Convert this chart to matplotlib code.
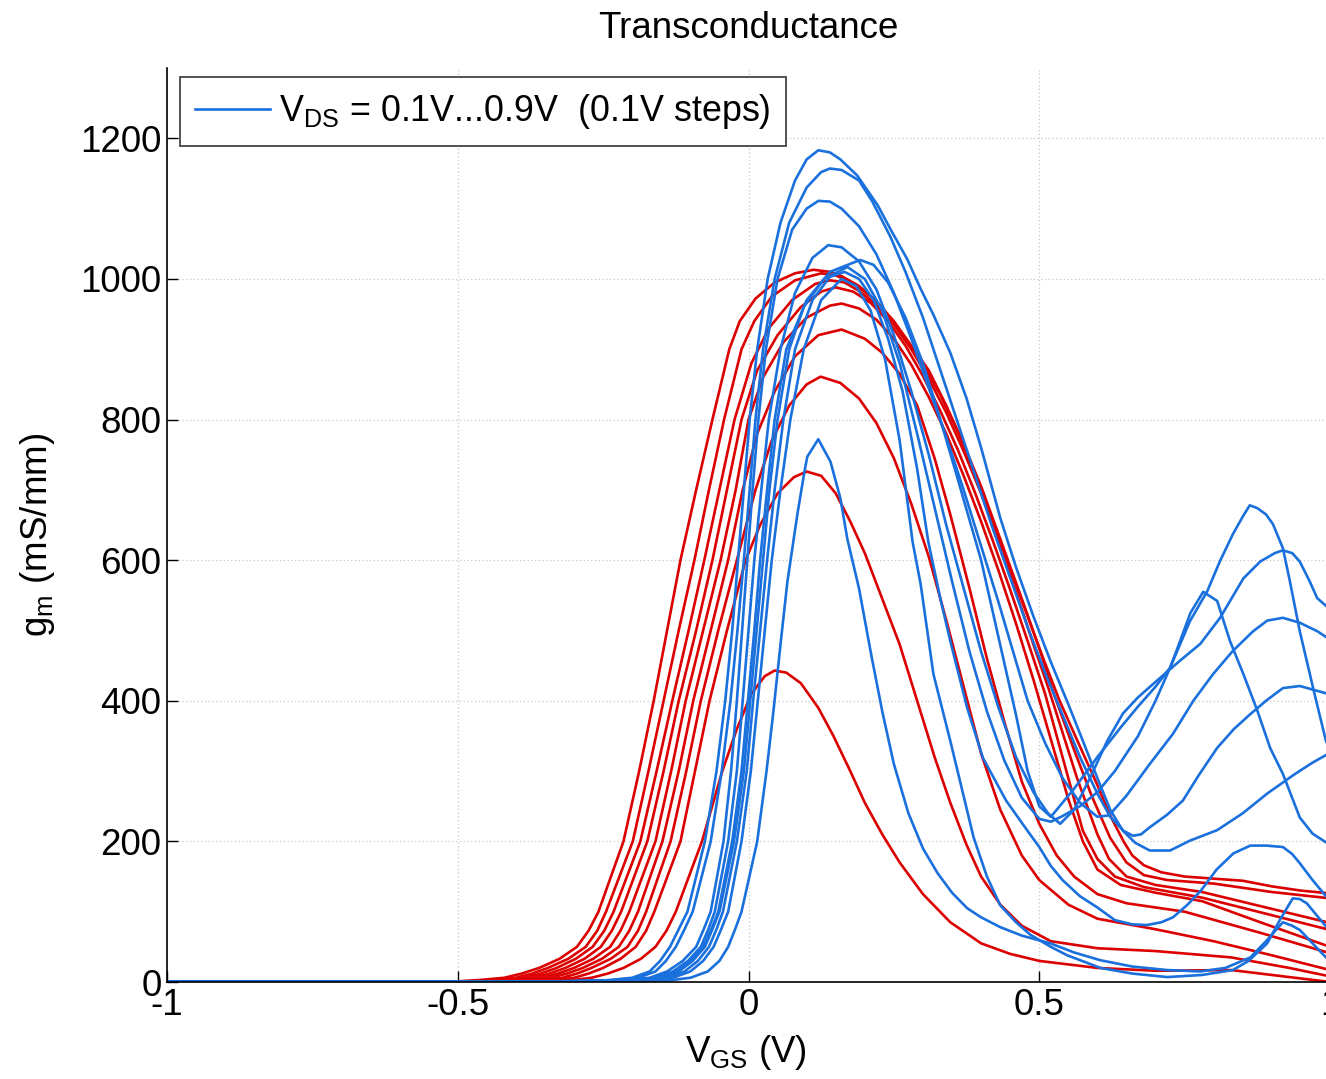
import matplotlib
matplotlib.use("Agg")
import matplotlib.pyplot as plt

plt.rcParams['font.family'] = ['Liberation Sans', 'DejaVu Sans']
plt.rcParams['mathtext.default'] = 'regular'

# red family: VGS (V) and gm (mS/mm)
r1_v = [-1, -0.46, -0.33, -0.3, -0.27, -0.242, -0.215, -0.185, -0.16, -0.141, -0.125, -0.08, -0.045, -0.02, 0.005, 0.028, 0.045, 0.065, 0.09, 0.12, 0.146, 0.175, 0.2, 0.23, 0.26, 0.3, 0.347, 0.4, 0.45, 0.5, 0.6, 0.7, 0.83, 0.92, 1.0]
r1_g = [0, 0, 1, 3, 6, 12, 20, 33, 50, 73, 100, 200, 300, 360, 410, 435, 443, 440, 425, 390, 350, 300, 255, 210, 170, 125, 85, 55, 40, 30, 20, 16, 17, 8, 0]
r2_v = [-1, -0.48, -0.36, -0.33, -0.30, -0.275, -0.25, -0.22, -0.194, -0.176, -0.162, -0.117, -0.092, -0.067, -0.037, -0.005, 0.02, 0.05, 0.078, 0.1, 0.125, 0.15, 0.175, 0.2, 0.23, 0.26, 0.29, 0.32, 0.347, 0.375, 0.4, 0.433, 0.47, 0.52, 0.6, 0.7, 0.83, 0.93, 1.0]
r2_g = [0, 0, 1, 3, 6, 12, 20, 33, 50, 73, 100, 200, 300, 400, 500, 600, 650, 695, 718, 726, 720, 695, 655, 610, 545, 480, 400, 320, 255, 195, 150, 110, 80, 58, 48, 44, 35, 20, 8]
r3_v = [-1, -0.5, -0.38, -0.35, -0.32, -0.295, -0.27, -0.237, -0.208, -0.19, -0.176, -0.134, -0.107, -0.082, -0.052, -0.02, 0.012, 0.04, 0.07, 0.1, 0.124, 0.158, 0.19, 0.22, 0.25, 0.28, 0.31, 0.34, 0.37, 0.4, 0.433, 0.47, 0.5, 0.55, 0.6, 0.7, 0.8, 0.9, 1.0]
r3_g = [0, 0, 1, 3, 6, 12, 20, 33, 50, 73, 100, 200, 300, 400, 500, 600, 700, 770, 820, 850, 861, 852, 830, 795, 745, 680, 605, 515, 420, 325, 245, 180, 145, 110, 90, 75, 58, 38, 17]
r4_v = [-1, -0.52, -0.40, -0.37, -0.34, -0.312, -0.285, -0.252, -0.223, -0.205, -0.19, -0.148, -0.12, -0.095, -0.065, -0.035, -0.01, 0.015, 0.045, 0.08, 0.12, 0.16, 0.2, 0.23, 0.26, 0.29, 0.32, 0.347, 0.38, 0.41, 0.44, 0.47, 0.5, 0.53, 0.56, 0.6, 0.65, 0.75, 0.88, 1.0]
r4_g = [0, 0, 1, 3, 6, 12, 20, 33, 50, 73, 100, 200, 300, 400, 500, 600, 700, 780, 840, 890, 920, 928, 915, 895, 865, 820, 745, 665, 560, 460, 370, 285, 225, 180, 150, 125, 112, 100, 70, 41]
r5_v = [-1, -0.54, -0.42, -0.387, -0.355, -0.327, -0.30, -0.267, -0.238, -0.22, -0.205, -0.16, -0.133, -0.108, -0.078, -0.048, -0.022, 0.0, 0.025, 0.06, 0.1, 0.14, 0.16, 0.19, 0.22, 0.25, 0.28, 0.31, 0.34, 0.37, 0.4, 0.43, 0.46, 0.49, 0.52, 0.55, 0.575, 0.6, 0.64, 0.7, 0.78, 0.88, 1.0]
r5_g = [0, 0, 1, 3, 6, 12, 20, 33, 50, 73, 100, 200, 300, 400, 500, 600, 700, 800, 860, 910, 945, 962, 965, 958, 942, 915, 878, 832, 780, 720, 655, 585, 510, 430, 345, 260, 200, 160, 138, 127, 115, 85, 50]
r6_v = [-1, -0.56, -0.44, -0.405, -0.37, -0.342, -0.315, -0.282, -0.254, -0.235, -0.219, -0.174, -0.146, -0.12, -0.09, -0.062, -0.037, -0.012, 0.015, 0.05, 0.09, 0.125, 0.15, 0.18, 0.21, 0.24, 0.27, 0.3, 0.33, 0.36, 0.39, 0.42, 0.45, 0.48, 0.51, 0.54, 0.575, 0.6, 0.63, 0.68, 0.78, 0.9, 1.0]
r6_g = [0, 0, 1, 3, 6, 12, 20, 33, 50, 73, 100, 200, 300, 400, 500, 600, 700, 800, 870, 920, 960, 982, 988, 982, 966, 940, 905, 862, 812, 757, 695, 628, 558, 485, 410, 320, 215, 175, 150, 135, 120, 95, 74]
r7_v = [-1, -0.58, -0.46, -0.422, -0.385, -0.357, -0.33, -0.297, -0.268, -0.248, -0.232, -0.186, -0.158, -0.131, -0.103, -0.076, -0.05, -0.024, 0.005, 0.035, 0.075, 0.115, 0.14, 0.165, 0.19, 0.22, 0.25, 0.28, 0.31, 0.34, 0.37, 0.4, 0.43, 0.46, 0.49, 0.515, 0.54, 0.565, 0.6, 0.62, 0.65, 0.7, 0.78, 0.88, 1.0]
r7_g = [0, 0, 1, 3, 6, 12, 20, 33, 50, 73, 100, 200, 300, 400, 500, 600, 700, 800, 880, 930, 970, 993, 998, 995, 983, 963, 935, 900, 858, 810, 755, 695, 625, 555, 480, 420, 355, 290, 210, 175, 150, 138, 128, 108, 84]
r8_v = [-1, -0.6, -0.48, -0.44, -0.40, -0.372, -0.345, -0.31, -0.28, -0.26, -0.245, -0.199, -0.172, -0.146, -0.12, -0.093, -0.068, -0.042, -0.012, 0.01, 0.04, 0.08, 0.125, 0.15, 0.18, 0.21, 0.24, 0.27, 0.3, 0.33, 0.36, 0.39, 0.42, 0.45, 0.48, 0.5, 0.525, 0.56, 0.59, 0.622, 0.65, 0.68, 0.72, 0.8, 0.9, 1.0]
r8_g = [0, 0, 1, 3, 6, 12, 20, 33, 50, 73, 100, 200, 300, 400, 500, 600, 700, 800, 900, 940, 975, 998, 1008, 1005, 994, 975, 948, 915, 878, 835, 783, 722, 655, 588, 520, 475, 410, 330, 265, 205, 170, 152, 145, 140, 128, 119]
r9_v = [-1, -0.62, -0.5, -0.46, -0.42, -0.39, -0.36, -0.325, -0.295, -0.275, -0.258, -0.215, -0.188, -0.163, -0.14, -0.117, -0.09, -0.062, -0.033, -0.015, 0.012, 0.045, 0.08, 0.112, 0.14, 0.16, 0.19, 0.22, 0.25, 0.28, 0.31, 0.34, 0.37, 0.40, 0.433, 0.47, 0.5, 0.535, 0.57, 0.6, 0.62, 0.645, 0.66, 0.68, 0.71, 0.75, 0.8, 0.85, 0.9, 0.95, 1.0]
r9_g = [0, 0, 1, 3, 6, 12, 20, 33, 50, 73, 100, 200, 300, 400, 500, 600, 700, 800, 900, 940, 972, 995, 1008, 1013, 1010, 1004, 990, 968, 940, 905, 870, 820, 765, 705, 630, 545, 475, 400, 335, 280, 240, 200, 180, 166, 156, 150, 147, 144, 136, 130, 126]

# blue family
b1_v = [-1, -0.35, -0.14, -0.1, -0.07, -0.05, -0.035, -0.023, -0.012, 0.015, 0.031, 0.043, 0.055, 0.067, 0.084, 0.095, 0.101, 0.12, 0.141, 0.158, 0.17, 0.19, 0.21, 0.23, 0.25, 0.275, 0.3, 0.325, 0.35, 0.376, 0.4, 0.433, 0.47, 0.519, 0.56, 0.605, 0.66, 0.72, 0.777, 0.82, 0.863, 0.89, 0.919, 0.935, 0.948, 0.97, 0.993, 1.0]
b1_g = [0, 0, 2, 6, 15, 30, 50, 75, 100, 200, 300, 386, 480, 570, 665, 720, 747, 772, 740, 688, 630, 560, 470, 385, 310, 240, 190, 155, 127, 105, 92, 78, 66, 55, 42, 31, 22, 17, 15, 20, 35, 58, 85, 80, 74, 55, 35, 30]
ba_v = [-1, -0.4, -0.25, -0.2, -0.17, -0.152, -0.135, -0.12, -0.105, -0.075, -0.055, -0.04, -0.028, -0.018, -0.008, 0.002, 0.015, 0.033, 0.055, 0.08, 0.1, 0.12, 0.14, 0.158, 0.187, 0.222, 0.244, 0.273, 0.296, 0.318, 0.347, 0.375, 0.4, 0.433, 0.46, 0.49, 0.52, 0.55, 0.575, 0.6, 0.622, 0.644, 0.665, 0.69, 0.725, 0.759, 0.806, 0.85, 0.892, 0.94, 0.97, 1.0]
ba_g = [0, 0, 2, 6, 15, 30, 50, 75, 100, 200, 300, 400, 500, 600, 700, 800, 900, 1000, 1080, 1140, 1170, 1183, 1180, 1170, 1147, 1105, 1071, 1028, 986, 949, 895, 830, 760, 660, 590, 520, 455, 395, 343, 290, 245, 215, 198, 187, 187, 201, 216, 240, 268, 296, 312, 326]
bb_v = [-1, -0.4, -0.24, -0.19, -0.16, -0.142, -0.125, -0.11, -0.096, -0.065, -0.046, -0.031, -0.019, -0.008, 0.002, 0.012, 0.025, 0.045, 0.07, 0.1, 0.125, 0.14, 0.16, 0.19, 0.213, 0.244, 0.27, 0.3, 0.33, 0.36, 0.39, 0.42, 0.45, 0.48, 0.51, 0.54, 0.57, 0.6, 0.622, 0.645, 0.661, 0.675, 0.69, 0.72, 0.747, 0.775, 0.806, 0.835, 0.863, 0.89, 0.919, 0.948, 0.97, 1.0]
bb_g = [0, 0, 2, 6, 15, 30, 50, 75, 100, 200, 300, 400, 500, 600, 700, 800, 900, 1000, 1080, 1130, 1152, 1157, 1155, 1140, 1110, 1060, 1010, 945, 870, 795, 720, 645, 575, 505, 440, 380, 320, 268, 235, 215, 208, 210, 220, 238, 258, 295, 333, 360, 381, 400, 418, 421, 416, 409]
bc_v = [-1, -0.4, -0.22, -0.17, -0.14, -0.113, -0.09, -0.077, -0.065, -0.043, -0.03, -0.02, -0.011, -0.002, 0.007, 0.017, 0.03, 0.05, 0.075, 0.1, 0.12, 0.14, 0.16, 0.19, 0.22, 0.25, 0.28, 0.31, 0.34, 0.37, 0.4, 0.43, 0.455, 0.48, 0.51, 0.54, 0.57, 0.6, 0.62, 0.65, 0.69, 0.73, 0.765, 0.799, 0.833, 0.868, 0.892, 0.919, 0.948, 0.978, 1.0]
bc_g = [0, 0, 2, 6, 15, 30, 50, 75, 100, 200, 300, 400, 500, 600, 700, 800, 900, 1000, 1070, 1100, 1111, 1110, 1100, 1075, 1035, 980, 915, 845, 775, 700, 620, 540, 470, 400, 340, 290, 255, 235, 237, 265, 310, 353, 400, 438, 471, 499, 514, 518, 511, 499, 487]
bd_v = [-1, -0.4, -0.21, -0.16, -0.13, -0.104, -0.082, -0.069, -0.058, -0.035, -0.02, -0.01, 0.0, 0.01, 0.022, 0.035, 0.055, 0.08, 0.11, 0.137, 0.16, 0.19, 0.22, 0.25, 0.28, 0.31, 0.34, 0.37, 0.4, 0.43, 0.46, 0.49, 0.515, 0.536, 0.56, 0.59, 0.617, 0.644, 0.67, 0.696, 0.742, 0.777, 0.811, 0.851, 0.88, 0.905, 0.919, 0.935, 0.948, 0.965, 0.978, 1.0]
bd_g = [0, 0, 2, 6, 15, 30, 50, 75, 100, 200, 300, 400, 500, 600, 700, 800, 900, 980, 1030, 1048, 1045, 1025, 985, 920, 840, 750, 650, 560, 470, 390, 320, 270, 240, 225, 245, 295, 343, 382, 405, 424, 457, 481, 518, 574, 598, 610, 614, 610, 598, 570, 546, 530]
be_v = [-1, -0.4, -0.2, -0.155, -0.125, -0.1, -0.078, -0.064, -0.052, -0.028, -0.012, -0.001, 0.01, 0.02, 0.032, 0.045, 0.065, 0.1, 0.14, 0.192, 0.215, 0.24, 0.27, 0.3, 0.33, 0.36, 0.4, 0.43, 0.46, 0.48, 0.5, 0.52, 0.56, 0.6, 0.64, 0.67, 0.7, 0.725, 0.759, 0.789, 0.811, 0.833, 0.85, 0.862, 0.875, 0.89, 0.902, 0.919, 0.931, 0.948, 0.971, 0.993, 1.0]
be_g = [0, 0, 2, 6, 15, 30, 50, 75, 100, 200, 300, 400, 500, 600, 700, 800, 900, 970, 1010, 1027, 1020, 995, 945, 880, 800, 715, 600, 490, 380, 300, 250, 235, 275, 320, 362, 392, 420, 447, 513, 556, 599, 637, 662, 678, 674, 665, 651, 617, 570, 499, 418, 343, 330]
bf_v = [-1, -0.4, -0.2, -0.15, -0.12, -0.096, -0.075, -0.062, -0.05, -0.025, -0.008, 0.003, 0.014, 0.025, 0.036, 0.05, 0.07, 0.095, 0.13, 0.17, 0.2, 0.23, 0.26, 0.29, 0.32, 0.35, 0.38, 0.41, 0.44, 0.47, 0.5, 0.52, 0.54, 0.57, 0.6, 0.63, 0.67, 0.7, 0.725, 0.74, 0.76, 0.782, 0.806, 0.828, 0.851, 0.875, 0.897, 0.919, 0.948, 0.97, 1.0]
bf_g = [0, 0, 2, 6, 15, 30, 50, 75, 100, 200, 300, 400, 500, 600, 700, 800, 900, 960, 1000, 1017, 1000, 955, 880, 780, 675, 570, 470, 385, 315, 262, 232, 228, 236, 250, 270, 300, 350, 400, 447, 480, 525, 555, 542, 485, 438, 386, 333, 296, 234, 211, 195]
bg_v = [-1, -0.4, -0.19, -0.14, -0.11, -0.087, -0.068, -0.055, -0.044, -0.02, -0.003, 0.008, 0.02, 0.032, 0.045, 0.06, 0.08, 0.11, 0.14, 0.165, 0.19, 0.215, 0.24, 0.265, 0.29, 0.309, 0.33, 0.347, 0.376, 0.403, 0.443, 0.479, 0.5, 0.52, 0.54, 0.57, 0.6, 0.63, 0.66, 0.685, 0.71, 0.73, 0.755, 0.778, 0.805, 0.834, 0.863, 0.89, 0.919, 0.935, 0.948, 0.97, 1.0]
bg_g = [0, 0, 2, 6, 15, 30, 50, 75, 100, 200, 300, 400, 500, 600, 700, 800, 900, 970, 1003, 1010, 1000, 970, 915, 840, 730, 627, 545, 485, 390, 319, 258, 216, 192, 165, 145, 122, 106, 88, 82, 81, 85, 92, 110, 130, 160, 183, 194, 194, 192, 182, 169, 145, 115]
bh_v = [-1, -0.4, -0.18, -0.13, -0.1, -0.078, -0.06, -0.047, -0.035, -0.012, 0.004, 0.016, 0.028, 0.04, 0.055, 0.072, 0.095, 0.125, 0.16, 0.185, 0.21, 0.235, 0.26, 0.282, 0.296, 0.318, 0.347, 0.387, 0.41, 0.433, 0.46, 0.485, 0.52, 0.548, 0.58, 0.605, 0.66, 0.72, 0.78, 0.833, 0.86, 0.892, 0.915, 0.936, 0.948, 0.96, 0.98, 1.0]
bh_g = [0, 0, 2, 6, 15, 30, 50, 75, 100, 200, 300, 400, 500, 600, 700, 800, 900, 970, 1000, 990, 955, 885, 770, 627, 566, 438, 343, 206, 150, 109, 85, 67, 50, 38, 28, 20, 12, 7, 10, 17, 30, 55, 90, 119, 118, 112, 92, 72]

red_v = [r1_v, r2_v, r3_v, r4_v, r5_v, r6_v, r7_v, r8_v, r9_v]
red_g = [r1_g, r2_g, r3_g, r4_g, r5_g, r6_g, r7_g, r8_g, r9_g]
blue_v = [b1_v, ba_v, bb_v, bc_v, bd_v, be_v, bf_v, bg_v, bh_v]
blue_g = [b1_g, ba_g, bb_g, bc_g, bd_g, be_g, bf_g, bg_g, bh_g]

red = '#dc0000'
blue = '#1a70dc'
fs = 26.5

fig = plt.figure(figsize=(13.26, 10.79), dpi=100)
ax = fig.add_axes([167/1326, 97/1079, 1163/1326, 914/1079])

for v, g in zip(red_v, red_g):
    ax.plot(v, g, color=red, lw=1.9, solid_joinstyle='round')
for i, (v, g) in enumerate(zip(blue_v, blue_g)):
    ax.plot(v, g, color=blue, lw=1.9, solid_joinstyle='round',
            label=r'$V_{DS}$ = 0.1V...0.9V  (0.1V steps)' if i == 0 else None)

ax.set_xlim(-1, 1)
ax.set_ylim(0, 1300)
ax.set_xticks([-1, -0.5, 0, 0.5, 1])
ax.set_xticklabels(['-1', '-0.5', '0', '0.5', '1'])
ax.set_yticks([0, 200, 400, 600, 800, 1000, 1200])
ax.tick_params(direction='in', length=8, width=1, labelsize=fs, pad=4)
ax.grid(True, color='#c8c8c8', linestyle=(0, (1, 2)), linewidth=0.9)
ax.spines['top'].set_visible(False)
ax.spines['right'].set_visible(False)
for s in ['left', 'bottom']:
    ax.spines[s].set_linewidth(1.2)

leg = ax.legend(loc='upper left', bbox_to_anchor=(13/1163, 1 - 9/914), borderaxespad=0,
                fontsize=25.8, fancybox=False, framealpha=1, edgecolor='#444444',
                handlelength=2.1, handletextpad=0.25, borderpad=0.42)
leg.get_frame().set_linewidth(1.3)

fig.text(748/1326, 1 - 28/1079, 'Transconductance', ha='center', va='center', fontsize=fs)
fig.text(746/1326, 1 - 1062/1079, r'$V_{GS}$ (V)', ha='center', va='baseline', fontsize=fs)
fig.text(38/1326, 1 - 535/1079, r'$g_m$ (mS/mm)', ha='center', va='center', rotation=90, fontsize=fs)

fig.savefig('out.png', dpi=100)
